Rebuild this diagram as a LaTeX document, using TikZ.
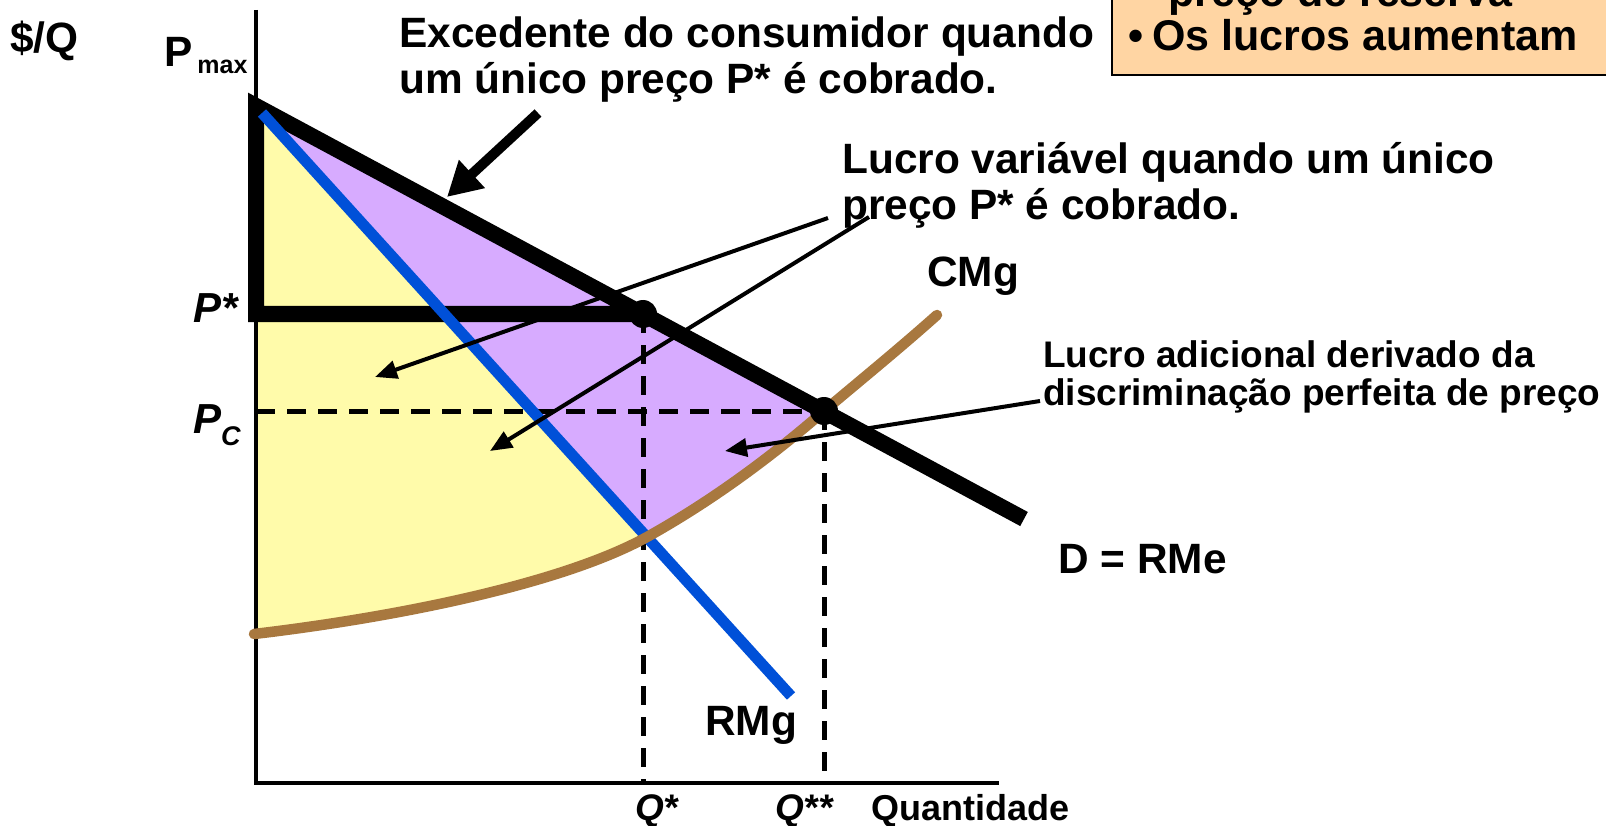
\documentclass[tikz,border=0pt]{standalone}
\usepackage{fontspec}
\setmainfont{Liberation Sans}
\usetikzlibrary{arrows.meta}
\definecolor{cyel}{HTML}{FFFBAA}
\definecolor{cpur}{HTML}{D7ABFF}
\definecolor{cbox}{HTML}{FFD5A3}
\definecolor{cbrown}{HTML}{A8783F}
\definecolor{cblue}{HTML}{0050D8}
\tikzset{
  txt/.style={inner sep=0pt, anchor=base west, font=\fontsize{42.4}{48}\selectfont\bfseries},
  smalltxt/.style={inner sep=0pt, anchor=base west, font=\fontsize{37}{42}\selectfont\bfseries},
  itxt/.style={inner sep=0pt, anchor=base west, font=\fontsize{42}{48}\selectfont\bfseries\itshape},
  qtxt/.style={inner sep=0pt, anchor=base west, font=\fontsize{37}{42}\selectfont\bfseries\itshape},
  boxtxt/.style={inner sep=0pt, anchor=base west, font=\fontsize{43}{48}\selectfont\bfseries},
  axisline/.style={line width=3.5pt},
  dashline/.style={line width=5pt, dash pattern=on 19pt off 12pt},
  thickline/.style={line width=16pt, line join=miter},
  mrline/.style={cblue, line width=11pt},
  mcline/.style={cbrown, line width=10.5pt, line cap=round},
  arr/.style={line width=4pt, -{Triangle[length=22pt,width=18pt]}},
  bigarr/.style={line width=10pt, -{Triangle[length=34pt,width=36pt]}},
  dot/.style={circle, fill=black, inner sep=0pt, minimum size=28pt}
}
\begin{document}
\begin{tikzpicture}[x=1pt,y=-1pt]
\useasboundingbox (0,0) rectangle (1606,826);
\clip (0,0) rectangle (1606,826);
% key points
\coordinate (A) at (256,106);
\coordinate (Qs) at (643,314);
\coordinate (Qss) at (824,411);
\coordinate (X) at (647,537);
\coordinate (Dend) at (1024,519);
\coordinate (MC0) at (254,634);
\coordinate (MCend) at (937,315);
\coordinate (B0) at (262,113);
\coordinate (B1) at (791,696);
\coordinate (O) at (256,783);
\coordinate (Ytop) at (256,10);
\coordinate (Xend) at (999,783);
\coordinate (Ps) at (256,314);
\coordinate (Pc) at (256,411);
\coordinate (Qsb) at (643,783);
\coordinate (Qssb) at (824,783);
% fills
\fill[cyel] (A) -- (X) .. controls (560,585) and (390,618) .. (MC0) -- cycle;
\fill[cpur] (A) -- (Qss) .. controls (770,458) and (710,502) .. (X) -- cycle;
% axes
\draw[axisline] (Ytop) -- (O) -- (Xend);
% dashed
\draw[dashline] (Pc) -- (Qss);
\draw[dashline] (Qs) -- (Qsb);
\draw[dashline] (Qss) -- (Qssb);
% thick demand & triangle
\draw[thickline] (Dend) -- (A) -- (Ps) -- (Qs);
% MR
\draw[mrline] (B0) -- (B1);
% MC
\draw[mcline] (MC0) .. controls (390,618) and (560,585) .. (X)
  .. controls (710,502) and (770,458) .. (Qss)
  .. controls (862,379) and (900,348) .. (MCend);
% dots
\node[dot] (dQs) at (Qs) {};
\node[dot] (dQss) at (Qss) {};
% box
\draw[line width=2.5pt, fill=cbox] (1112,-30) rectangle (1650,75);
\node[boxtxt] (bx0) at (1168,7) {preço de reserva};
\node[boxtxt] (bx1) at (1128,51) {•};
\node[boxtxt] (bx2) at (1152,51) {Os lucros aumentam};
% texts
\node[txt] (yl) at (10,53) {\$/Q};
\node[txt] (pmax) at (164,67) {P\kern5pt\raisebox{-7pt}{\fontsize{25}{25}\selectfont max}};
\node[txt] (exc1) at (399,48) {Excedente do consumidor quando};
\node[txt] (exc2) at (399,94) {um único preço P* é cobrado.};
\node[txt] (luc1) at (842,174) {Lucro variável quando um único};
\node[txt] (luc2) at (842,220) {preço P* é cobrado.};
\node[txt] (cmg) at (927,287) {CMg};
\node[smalltxt] (ad1) at (1043,367) {Lucro adicional derivado da};
\node[smalltxt] (ad2) at (1043,405) {discriminação perfeita de preço};
\node[txt] (dd) at (1058,573) {D = RMe};
\node[txt] (rmg) at (705,735) {RMg};
\node[itxt] (pst) at (193,323) {P*};
\node[itxt] (pc) at (193,433) {P\raisebox{-12pt}{\fontsize{27}{27}\selectfont C}};
\node[qtxt] (qst) at (635,820) {Q*};
\node[qtxt] (qsst) at (775,820) {Q**};
\node[inner sep=0pt, anchor=base west, font=\fontsize{36}{40}\selectfont\bfseries] (qty) at (871,820) {Quantidade};
% arrows
\coordinate (a1s) at (538,113);
\coordinate (a1t) at (447,197);
\draw[bigarr] (a1s) -- (a1t);
\coordinate (a2s) at (828,218);
\coordinate (a2t) at (375,377);
\draw[arr] (a2s) -- (a2t);
\coordinate (a3s) at (869,217);
\coordinate (a3t) at (490,451);
\draw[arr] (a3s) -- (a3t);
\coordinate (a4s) at (1040,401);
\coordinate (a4t) at (725,451);
\draw[arr] (a4s) -- (a4t);
\end{tikzpicture}
\end{document}
